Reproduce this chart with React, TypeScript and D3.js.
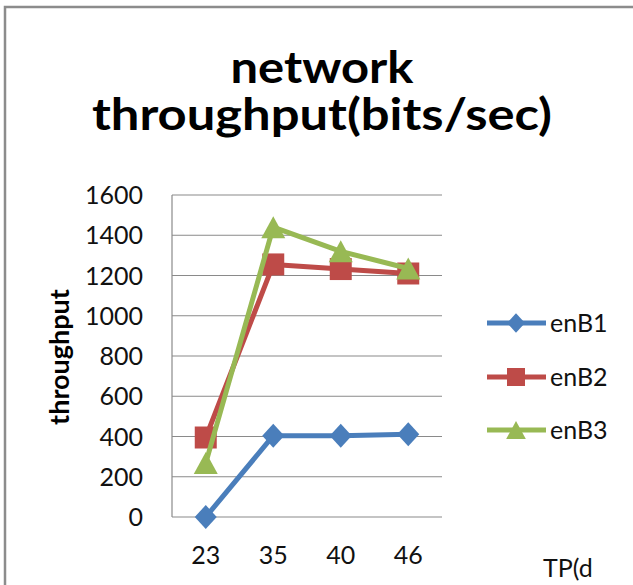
import React from "react";
import * as d3 from "d3";

const categories = ["23", "35", "40", "46"];
const enB1 = [0, 404, 404, 411];
const enB2 = [395, 1255, 1232, 1210];
const enB3 = [268, 1440, 1320, 1235];
const seriesNames = ["enB1", "enB2", "enB3"];
const seriesColors = ["#4A7EBB", "#BE4B48", "#98B954"];
const yTicks = [0, 200, 400, 600, 800, 1000, 1200, 1400, 1600];
const titleLines = ["network", "throughput(bits/sec)"];
const yTitle = "throughput";
const xTitle = "TP(d";

const W = 633;
const H = 585;
const FONT = "Lato, 'Open Sans', sans-serif";

function markerPath(kind: string, s: number): string {
  if (kind === "diamond") {
    const hw = 11 * s, hh = 12 * s;
    return `M0,${-hh}L${hw},0L0,${hh}L${-hw},0Z`;
  }
  if (kind === "square") {
    const h = 11 * s;
    return `M${-h},${-h}H${h}V${h}H${-h}Z`;
  }
  const hw = 12 * s, hh = 11 * s;
  return `M0,${-hh}L${hw},${hh}L${-hw},${hh}Z`;
}

export default function App() {
  const x = d3.scaleBand<string>().domain(categories).range([172, 442]);
  const y = d3.scaleLinear().domain([0, 1600]).range([517, 195]);
  const cx = (c: string) => (x(c) as number) + x.bandwidth() / 2;
  const series = [enB1, enB2, enB3];
  const kinds = ["diamond", "square", "triangle"];
  const line = d3
    .line<number>()
    .x((_, i) => cx(categories[i]))
    .y((d) => y(d));
  const legendY = [323, 377, 430];
  const titleWidths = [183, 460];

  return (
    <svg
      width={W}
      height={H}
      style={{ position: "absolute", left: 0, top: 0, background: "#fff" }}
      fontFamily={FONT}
    >
      <rect x={0} y={0} width={W} height={H} fill="#fff" />
      <path d={`M5,${H + 5}V7H${W + 5}`} fill="none" stroke="#8c8c8c" strokeWidth={2.5} />
      {titleLines.map((t, i) => (
        <text
          key={t}
          x={322}
          y={83 + i * 47}
          textAnchor="middle"
          fontWeight="bold"
          fontSize={44}
          textLength={titleWidths[i]}
          lengthAdjust="spacingAndGlyphs"
          fill="#000"
        >
          {t}
        </text>
      ))}
      {yTicks.map((t) => (
        <g key={t}>
          <line x1={172} x2={442} y1={y(t)} y2={y(t)} stroke="#8a8a8a" strokeWidth={1.2} />
          <text x={143} y={y(t) + 9} textAnchor="end" fontSize={25} fill="#111">
            {t}
          </text>
        </g>
      ))}
      <line x1={172} x2={172} y1={y(1600)} y2={y(0)} stroke="#8a8a8a" strokeWidth={1.2} />
      {categories.map((c) => (
        <text key={c} x={cx(c)} y={564} textAnchor="middle" fontSize={25} fill="#111">
          {c}
        </text>
      ))}
      <text
        transform={`translate(69,357) rotate(-90)`}
        textAnchor="middle"
        fontWeight="bold"
        fontSize={27}
        fill="#000"
      >
        {yTitle}
      </text>
      {series.map((vals, si) => (
        <g key={si}>
          <path d={line(vals) as string} fill="none" stroke={seriesColors[si]} strokeWidth={5} strokeLinejoin="round" />
          {vals.map((v, i) => (
            <path
              key={i}
              d={markerPath(kinds[si], 1)}
              transform={`translate(${cx(categories[i])},${y(v)})`}
              fill={seriesColors[si]}
            />
          ))}
        </g>
      ))}
      {seriesNames.map((n, si) => (
        <g key={n}>
          <line x1={487} x2={546} y1={legendY[si]} y2={legendY[si]} stroke={seriesColors[si]} strokeWidth={5} />
          <path d={markerPath(kinds[si], 0.82)} transform={`translate(516,${legendY[si]})`} fill={seriesColors[si]} />
          <text x={550} y={legendY[si] + 9} fontSize={25} fill="#111">
            {n}
          </text>
        </g>
      ))}
      <text x={543} y={577} fontSize={25} fill="#111">
        {xTitle}
      </text>
    </svg>
  );
}
